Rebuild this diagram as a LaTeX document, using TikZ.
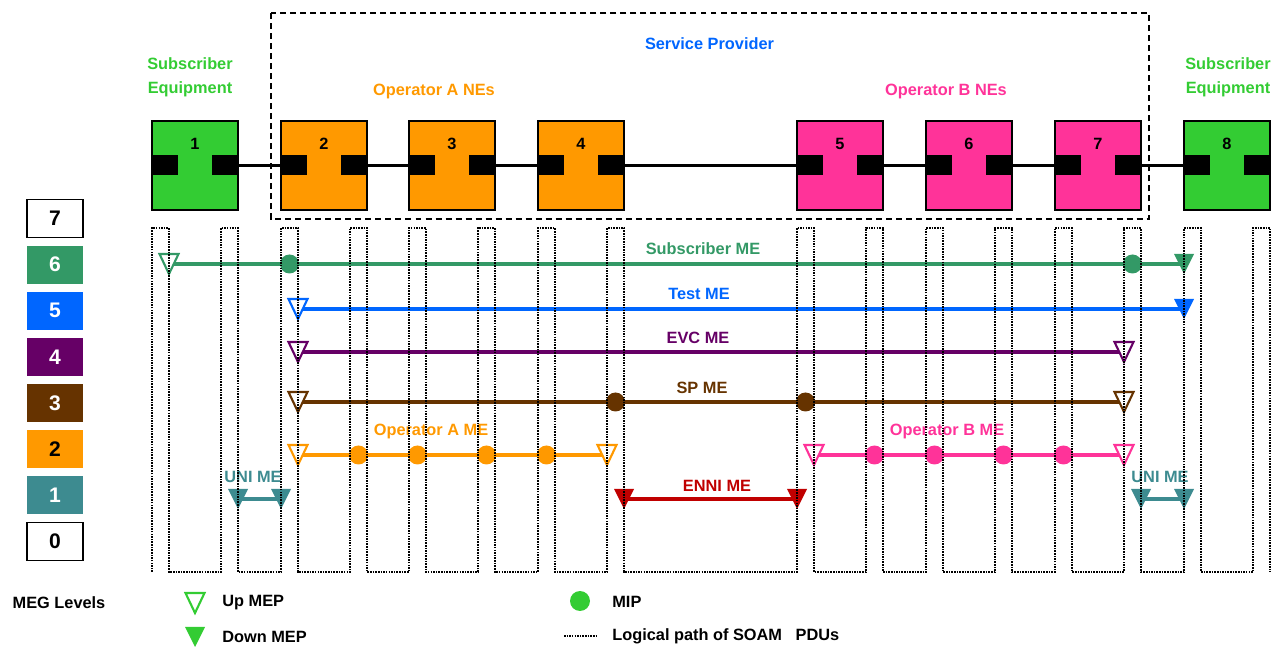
\documentclass[tikz,border=0pt]{standalone}
\usepackage{fontspec}
\setmainfont{Liberation Sans}
\usepackage{xcolor}
\definecolor{subgreen}{HTML}{33CC33}
\definecolor{opa}{HTML}{FF9900}
\definecolor{opb}{HTML}{FF3399}
\definecolor{spblue}{HTML}{0066FF}
\definecolor{lvsix}{HTML}{339966}
\definecolor{lvfour}{HTML}{660066}
\definecolor{lvthree}{HTML}{663300}
\definecolor{lvone}{HTML}{3D8B90}
\definecolor{enni}{HTML}{C00000}
\usepackage{tikz}
\usetikzlibrary{positioning}

\begin{document}
\begin{tikzpicture}[x=0.02cm,y=-0.02cm,
  txt/.style={font=\fontsize{9.3}{13.6}\selectfont\bfseries,inner sep=0pt},
  nebox/.style={rectangle,draw=black,line width=1.1pt,minimum width=1.72cm,
    minimum height=1.78cm,inner sep=0pt,outer sep=0pt},
  port/.style={rectangle,fill=black,minimum width=0.52cm,minimum height=0.4cm,
    inner sep=0pt,outer sep=0pt},
  lvbox/.style={rectangle,minimum width=1.12cm,minimum height=0.76cm,inner sep=0pt,
    outer sep=0pt,font=\fontsize{12}{14}\selectfont\bfseries,text=white},
  link/.style={line width=1.4pt},
  spframe/.style={line width=1.1pt,dash pattern=on 3.4pt off 2.3pt},
  meline/.style={line width=1.8pt},
  mip/.style={circle,fill=#1,minimum size=0.38cm,inner sep=0pt},
  logical/.style={line width=0.9pt,dash pattern=on 0.9pt off 0.6pt},
  upmep/.pic={\draw[line width=1.2pt,draw=#1,fill=white] (-9.5,-10) -- (9.5,-10) -- (0,10) -- cycle;},
  downmep/.pic={\fill[#1] (-10,-10) -- (10,-10) -- (0,10) -- cycle;}]
  \useasboundingbox (0,0) rectangle (1276,648);

  \draw[spframe] (271,13) rectangle (1149,219);
  \node[txt,text=spblue] (spl) at (709.5,44) {Service Provider};
  \node[txt,text=subgreen,align=center] (subl) at (190,77) {Subscriber\\Equipment};
  \node[txt,text=subgreen,align=center] (subr) at (1228,77) {Subscriber\\Equipment};
  \node[txt,text=opa] (opal) at (434,91) {Operator A NEs};
  \node[txt,text=opb] (opbl) at (946,91) {Operator B NEs};

  \node[nebox,fill=subgreen] (ne1) at (195,165.5) {};
  \node[nebox,fill=opa,right=0.86cm of ne1] (ne2) {};
  \node[nebox,fill=opa,right=0.84cm of ne2] (ne3) {};
  \node[nebox,fill=opa,right=0.86cm of ne3] (ne4) {};
  \node[nebox,fill=opb,right=3.46cm of ne4] (ne5) {};
  \node[nebox,fill=opb,right=0.86cm of ne5] (ne6) {};
  \node[nebox,fill=opb,right=0.86cm of ne6] (ne7) {};
  \node[nebox,fill=subgreen,right=0.86cm of ne7] (ne8) {};
  \node[port,anchor=west] (ne1l) at (ne1.west) {}; \node[port,anchor=east] (ne1r) at (ne1.east) {};
  \node[port,anchor=west] (ne2l) at (ne2.west) {}; \node[port,anchor=east] (ne2r) at (ne2.east) {};
  \node[port,anchor=west] (ne3l) at (ne3.west) {}; \node[port,anchor=east] (ne3r) at (ne3.east) {};
  \node[port,anchor=west] (ne4l) at (ne4.west) {}; \node[port,anchor=east] (ne4r) at (ne4.east) {};
  \node[port,anchor=west] (ne5l) at (ne5.west) {}; \node[port,anchor=east] (ne5r) at (ne5.east) {};
  \node[port,anchor=west] (ne6l) at (ne6.west) {}; \node[port,anchor=east] (ne6r) at (ne6.east) {};
  \node[port,anchor=west] (ne7l) at (ne7.west) {}; \node[port,anchor=east] (ne7r) at (ne7.east) {};
  \node[port,anchor=west] (ne8l) at (ne8.west) {}; \node[port,anchor=east] (ne8r) at (ne8.east) {};
  \node[txt] (ne1n) at ([yshift=-0.46cm]ne1.north) {1};
  \node[txt] (ne2n) at ([yshift=-0.46cm]ne2.north) {2};
  \node[txt] (ne3n) at ([yshift=-0.46cm]ne3.north) {3};
  \node[txt] (ne4n) at ([yshift=-0.46cm]ne4.north) {4};
  \node[txt] (ne5n) at ([yshift=-0.46cm]ne5.north) {5};
  \node[txt] (ne6n) at ([yshift=-0.46cm]ne6.north) {6};
  \node[txt] (ne7n) at ([yshift=-0.46cm]ne7.north) {7};
  \node[txt] (ne8n) at ([yshift=-0.46cm]ne8.north) {8};
  \draw[link] (ne1r)--(ne2l); \draw[link] (ne2r)--(ne3l); \draw[link] (ne3r)--(ne4l);
  \draw[link] (ne4r)--(ne5l); \draw[link] (ne5r)--(ne6l); \draw[link] (ne6r)--(ne7l);
  \draw[link] (ne7r)--(ne8l);

  \node[lvbox,draw=black,line width=1.1pt,text=black] (lv7) at (55,218.5) {7};
  \node[lvbox,fill=lvsix,below=0.163cm of lv7] (lv6) {6};
  \node[lvbox,fill=spblue,below=0.163cm of lv6] (lv5) {5};
  \node[lvbox,fill=lvfour,below=0.163cm of lv5] (lv4) {4};
  \node[lvbox,fill=lvthree,below=0.163cm of lv4] (lv3) {3};
  \node[lvbox,fill=opa,text=black,below=0.163cm of lv3] (lv2) {2};
  \node[lvbox,fill=lvone,below=0.163cm of lv2] (lv1) {1};
  \node[lvbox,draw=black,line width=1.1pt,text=black,below=0.163cm of lv1] (lv0) {0};

  \coordinate (sme1) at (169,264); \coordinate (sme2) at (1184,264);
  \coordinate (tme1) at (298,309); \coordinate (tme2) at (1184,309);
  \coordinate (evc1) at (298,352); \coordinate (evc2) at (1124,352);
  \coordinate (spm1) at (298,402); \coordinate (spm2) at (1124,402);
  \coordinate (oam1) at (298,455); \coordinate (oam2) at (607,455);
  \coordinate (obm1) at (814,455); \coordinate (obm2) at (1124,455);
  \coordinate (uni1) at (238,499); \coordinate (uni2) at (281,499);
  \coordinate (enn1) at (624,499); \coordinate (enn2) at (797,499);
  \coordinate (unr1) at (1141,499); \coordinate (unr2) at (1184,499);
  \draw[meline,lvsix] (sme1)--(sme2);
  \draw[meline,spblue] (tme1)--(tme2);
  \draw[meline,lvfour] (evc1)--(evc2);
  \draw[meline,lvthree] (spm1)--(spm2);
  \draw[meline,opa] (oam1)--(oam2);
  \draw[meline,opb] (obm1)--(obm2);
  \draw[meline,lvone] (uni1)--(uni2);
  \draw[meline,enni] (enn1)--(enn2);
  \draw[meline,lvone] (unr1)--(unr2);

  \node[mip=lvsix] (smip1) at (289.5,264) {}; \node[mip=lvsix] (smip2) at (1132.5,264) {};
  \node[mip=lvthree] (spmip1) at (615.5,402) {}; \node[mip=lvthree] (spmip2) at (805.5,402) {};
  \node[mip=opa] (oamip1) at (358.5,455) {}; \node[mip=opa] (oamip2) at (417.5,455) {};
  \node[mip=opa] (oamip3) at (486.5,455) {}; \node[mip=opa] (oamip4) at (546.5,455) {};
  \node[mip=opb] (obmip1) at (874.5,455) {}; \node[mip=opb] (obmip2) at (934.5,455) {};
  \node[mip=opb] (obmip3) at (1003.5,455) {}; \node[mip=opb] (obmip4) at (1063.5,455) {};
  \pic at (sme1) {upmep=lvsix}; \pic at (sme2) {downmep=lvsix};
  \pic at (tme1) {upmep=spblue}; \pic at (tme2) {downmep=spblue};
  \pic at (evc1) {upmep=lvfour}; \pic at (evc2) {upmep=lvfour};
  \pic at (spm1) {upmep=lvthree}; \pic at (spm2) {upmep=lvthree};
  \pic at (oam1) {upmep=opa}; \pic at (oam2) {upmep=opa};
  \pic at (obm1) {upmep=opb}; \pic at (obm2) {upmep=opb};
  \pic at (uni1) {downmep=lvone}; \pic at (uni2) {downmep=lvone};
  \pic at (enn1) {downmep=enni}; \pic at (enn2) {downmep=enni};
  \pic at (unr1) {downmep=lvone}; \pic at (unr2) {downmep=lvone};

  \node[txt,text=lvsix] (smel) at (703,249) {Subscriber ME};
  \node[txt,text=spblue] (tmel) at (699,294) {Test ME};
  \node[txt,text=lvfour] (evcl) at (698,338) {EVC ME};
  \node[txt,text=lvthree] (spml) at (702,388) {SP ME};
  \node[txt,text=opa] (oaml) at (431,431) {Operator A ME};
  \node[txt,text=opb] (obml) at (947,431) {Operator B ME};
  \node[txt,text=lvone] (unil) at (253,477) {UNI ME};
  \node[txt,text=enni] (ennl) at (717,486) {ENNI ME};
  \node[txt,text=lvone] (unrl) at (1160,477) {UNI ME};

  \draw[logical] (152,572) foreach \a in {152,221,281,350,409,478,538,607,797,866,926,995,1055,1124,1184,1253}
    { -- (\a,572) -- (\a,228) -- (\a+17,228) -- (\a+17,572) };

  \node[txt] (megl) at (59,603) {MEG Levels};
  \coordinate (upk) at (195,603); \pic at (upk) {upmep=subgreen};
  \node[txt,anchor=west] (upt) at (222,603) {Up MEP};
  \coordinate (dnk) at (195,637); \pic at (dnk) {downmep=subgreen};
  \node[txt,anchor=west] (dnt) at (222,637) {Down MEP};
  \node[mip=subgreen,minimum size=0.4cm] (mipk) at (580,601) {};
  \node[txt,anchor=west] (mipt) at (612,602) {MIP};
  \coordinate (lpa) at (564,636); \coordinate (lpb) at (597,636);
  \draw[logical] (lpa)--(lpb);
  \node[txt,anchor=west] (lpt) at (612,636) {Logical path of SOAM\ \ \ PDUs};
\end{tikzpicture}
\end{document}
